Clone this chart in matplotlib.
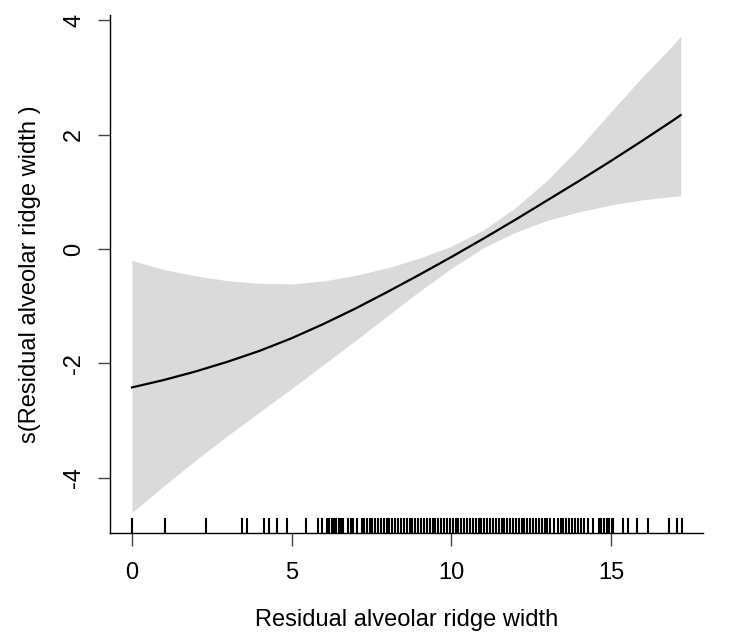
import numpy as np
import matplotlib
matplotlib.use("Agg")
import matplotlib.pyplot as plt
import matplotlib.transforms as mtransforms

plt.rcParams['font.family'] = ['Liberation Sans', 'DejaVu Sans']

# smooth term
x_vals = [0, 1, 2, 3, 4, 5, 6, 7, 8, 9, 10, 11, 12, 13, 14, 15, 16, 17, 17.18]
fit = [-2.42, -2.29, -2.14, -1.97, -1.78, -1.56, -1.31, -1.04, -0.75, -0.45,
       -0.14, 0.18, 0.51, 0.85, 1.19, 1.54, 1.90, 2.27, 2.34]
upper = [-0.20, -0.36, -0.47, -0.555, -0.60, -0.61, -0.56, -0.46, -0.33, -0.16,
         0.05, 0.33, 0.72, 1.20, 1.77, 2.40, 3.02, 3.60, 3.72]
lower = [-4.61, -4.14, -3.69, -3.26, -2.85, -2.44, -2.02, -1.60, -1.17, -0.74,
         -0.34, 0.02, 0.29, 0.50, 0.65, 0.77, 0.86, 0.92, 0.93]

# observed values (rug)
rug = [0.00, 1.02, 2.33, 3.44, 3.60, 4.12, 4.28, 4.54, 4.85, 5.46, 5.83, 5.95,
       6.10, 6.18, 6.25, 6.33, 6.40, 6.48, 6.55, 6.62, 6.77, 6.85, 6.93, 7.04,
       7.20, 7.28, 7.36, 7.45, 7.53, 7.62, 7.70, 7.79, 7.88, 7.97, 8.06, 8.15,
       8.24, 8.33, 8.42, 8.51, 8.60, 8.69, 8.78, 8.87, 8.96, 9.05, 9.14, 9.23,
       9.32, 9.41, 9.50, 9.59, 9.68, 9.77, 9.86, 9.95, 10.04, 10.13, 10.22,
       10.31, 10.40, 10.49, 10.58, 10.67, 10.76, 10.85, 10.94, 11.03, 11.12,
       11.21, 11.30, 11.39, 11.48, 11.57, 11.66, 11.75, 11.84, 11.93, 12.02,
       12.11, 12.20, 12.29, 12.38, 12.47, 12.56, 12.65, 12.74, 12.83, 12.92,
       13.01, 13.10, 13.20, 13.33, 13.42, 13.51, 13.60, 13.69, 13.78, 13.87,
       13.96, 14.05, 14.14, 14.28, 14.45, 14.63, 14.70, 14.78, 14.86, 14.94,
       15.02, 15.07, 15.37, 15.52, 15.80, 16.17, 16.80, 17.08, 17.21]

x_ticks = [0, 5, 10, 15]
y_ticks = [-4, -2, 0, 2, 4]

fig = plt.figure(figsize=(7.32, 6.33), dpi=100)
ax = fig.add_axes([0.1503, 0.1575, 0.8097, 0.8188])

ax.fill_between(x_vals, lower, upper, color='#dadada', lw=0)
ax.plot(x_vals, fit, color='black', lw=1.6)

trans = mtransforms.blended_transform_factory(ax.transData, ax.transAxes)
ax.vlines(rug, 0, 0.03, transform=trans, color='black', lw=1.5)

ax.set_xlim(-0.687, 17.87)
ax.set_ylim(-4.97, 4.09)

for s in ['top', 'right']:
    ax.spines[s].set_visible(False)
for s in ['left', 'bottom']:
    ax.spines[s].set_linewidth(1.0)

ax.set_xticks(x_ticks)
ax.set_yticks(y_ticks)
ax.set_yticklabels([str(v) for v in y_ticks], rotation=90, va='center')
ax.tick_params(axis='both', direction='out', length=9, width=1.0,
               color='#444444', labelsize=17)
ax.tick_params(axis='x', pad=12)
ax.tick_params(axis='y', pad=9)

ax.set_xlabel('Residual alveolar ridge width', fontsize=17, labelpad=18)
ax.set_ylabel('s(Residual alveolar ridge width )', fontsize=17, labelpad=16)

fig.savefig('out.png', dpi=100)
